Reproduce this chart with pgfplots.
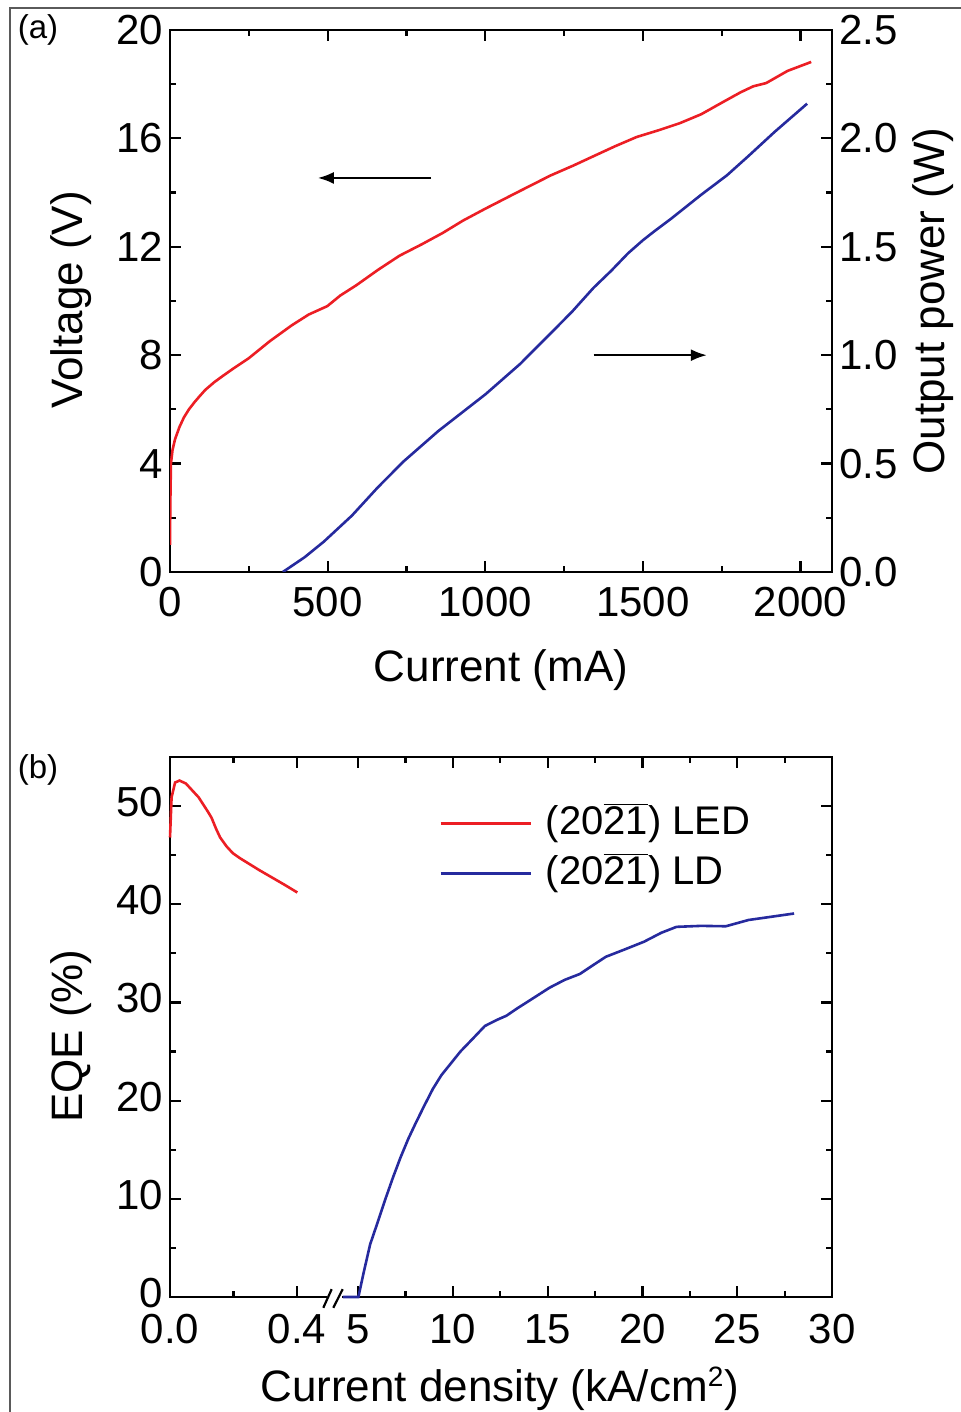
\documentclass[border=0pt]{standalone}
\usepackage{pgfplots}
\pgfplotsset{compat=1.18}
\usepackage{pgfplotstable}
\usepackage{fontspec}
\setmainfont{Liberation Sans}
\usetikzlibrary{arrows.meta}
\definecolor{cred}{RGB}{236,30,36}
\definecolor{cblue}{RGB}{38,42,158}
\definecolor{framegray}{RGB}{90,90,90}

% Panel (a): voltage vs current
\pgfplotstableread{
I V
0 1.0
1 2.5
3 4.0
8 4.5
16 4.9
30 5.35
44 5.7
60 6.0
78 6.27
95 6.5
112 6.72
140 7.0
167 7.23
200 7.5
249 7.88
317 8.52
386 9.1
440 9.5
499 9.81
540 10.2
591 10.58
660 11.15
728 11.67
800 12.1
865 12.51
930 12.97
1001 13.41
1100 14.0
1207 14.63
1280 15.0
1343 15.34
1410 15.7
1480 16.05
1550 16.3
1617 16.56
1685 16.89
1754 17.34
1810 17.7
1850 17.92
1891 18.04
1959 18.49
2034 18.82
}\voltage

% Panel (a): output power vs current
\pgfplotstableread{
I P
358 0
427 0.068
488 0.14
577 0.26
659 0.39
741 0.51
851 0.65
1001 0.82
1111 0.96
1207 1.10
1275 1.20
1343 1.31
1400 1.39
1453 1.47
1500 1.53
1535 1.57
1590 1.63
1685 1.74
1767 1.83
1836 1.92
1918 2.03
2021 2.16
}\power

% Panel (b): LED EQE vs current density (kA/cm2)
\pgfplotstableread{
J E
0 46.8
0.005 50.9
0.016 52.4
0.03 52.6
0.05 52.3
0.07 51.6
0.09 50.9
0.104 50.2
0.12 49.4
0.131 48.8
0.145 47.7
0.158 46.8
0.178 45.9
0.198 45.2
0.22 44.7
0.245 44.2
0.28 43.5
0.312 42.9
0.36 42.0
0.401 41.2
}\led

% Panel (b): LD EQE vs current density (kA/cm2)
\pgfplotstableread{
J E
4.2 0
5.02 0
5.3 2.5
5.64 5.36
6.0 7.4
6.44 9.95
6.85 12.2
7.24 14.2
7.65 16.1
8.04 17.7
8.5 19.5
8.95 21.2
9.4 22.6
9.86 23.7
10.4 25.0
11.0 26.2
11.69 27.6
12.3 28.2
12.83 28.65
13.4 29.4
13.97 30.1
15.1 31.5
15.9 32.3
16.7 32.9
17.4 33.8
18.07 34.65
19.2 35.5
20.1 36.2
21.0 37.1
21.8 37.7
23.1 37.8
24.4 37.76
25.6 38.4
26.7 38.7
28.0 39.06
}\ld

\pgfplotsset{
  mystyle/.style={
    scale only axis,
    axis line style={line width=1.1pt},
    every tick/.style={line width=1.1pt, black},
    major tick length=5.5pt,
    minor tick length=3pt,
    tick align=inside,
    tick label style={font=\fontsize{21}{22}\selectfont},
    xticklabel style={yshift=-4pt},
    label style={font=\fontsize{22}{24}\selectfont},
    /pgf/number format/assume math mode=true,
    /pgf/number format/1000 sep={},
  }
}

\begin{document}
\begin{tikzpicture}
\useasboundingbox (0,0) rectangle (480.5pt,706pt);
% outer frame
\draw[framegray, line width=1pt] (5pt,-5pt) -- (5pt,702pt) -- (485pt,702pt);

% ---------- Panel (a) ----------
\begin{axis}[mystyle, at={(85pt,420pt)}, anchor=south west,
  width=331pt, height=271pt,
  xmin=0, xmax=2100, ymin=0, ymax=20,
  xtick={0,500,1000,1500,2000}, minor xtick={250,750,1250,1750},
  ytick={0,4,8,12,16,20}, minor ytick={2,6,10,14,18},
  ytick pos=left,
  xlabel={Current (mA)}, ylabel={Voltage (V)},
  xlabel style={at={(axis description cs:0.5,-0.181)}, anchor=center},
  ylabel style={at={(axis description cs:-0.15,0.502)}, anchor=center},
]
\addplot[cred, line width=1.3pt] table[x=I, y=V] {\voltage};
\draw[line width=1.1pt, -{Latex[length=8pt,width=6pt]}] (axis cs:828,14.54) -- (axis cs:469,14.54);
\end{axis}
\begin{axis}[mystyle, at={(85pt,420pt)}, anchor=south west,
  width=331pt, height=271pt,
  xmin=0, xmax=2100, ymin=0, ymax=2.5,
  axis x line=none, axis y line*=right,
  ytick={0,0.5,1,1.5,2,2.5}, minor ytick={0.25,0.75,1.25,1.75,2.25},
  yticklabel style={/pgf/number format/.cd, fixed, fixed zerofill, precision=1},
  ylabel={Output power (W)},
  ylabel style={at={(axis description cs:1.153,0.5)}, anchor=center},
]
\addplot[cblue, line width=1.3pt] table[x=I, y=P] {\power};
\draw[line width=1.1pt, -{Latex[length=8pt,width=6pt]}] (axis cs:1344,1.0) -- (axis cs:1703,1.0);
\end{axis}

% ---------- Panel (b) ----------
\begin{axis}[mystyle, at={(85pt,57.5pt)}, anchor=south west,
  width=331pt, height=270pt,
  xmin=0, xmax=662, ymin=0, ymax=55, clip=false,
  xtick={0,127,188,282.8,377.6,472.4,567.2,662},
  xticklabels={0.0,0.4,5,10,15,20,25,30},
  xticklabel style={inner ysep=1pt, yshift=-3.5pt},
  minor xtick={63.5,235.4,330.2,425,519.8,614.6},
  ytick={0,10,20,30,40,50}, minor ytick={5,15,25,35,45},
  yticklabel style={inner ysep=1pt, yshift=2pt},
  xlabel={Current density (kA/cm$^{\mbox{\fontsize{14}{14}\selectfont 2}}$)},
  ylabel={EQE (\%)},
  xlabel style={at={(axis description cs:0.498,-0.17)}, anchor=center},
  ylabel style={at={(axis description cs:-0.15,0.483)}, anchor=center},
  legend style={draw=none, fill=none, at={(axis description cs:0.397,0.931)},
    anchor=north west, font=\fontsize{20}{22}\selectfont, row sep=0pt,
    nodes={text height=16pt, text depth=5pt, inner ysep=2pt, inner xsep=3.5pt},
    /tikz/every odd column/.append style={column sep=3.5pt}},
  legend cell align=left,
  legend image code/.code={\draw[#1] (0pt,0pt) -- (45pt,0pt);},
]
\fill[white] (axis cs:157,-1.3) rectangle (axis cs:171.5,1.3);
\draw[line width=1.1pt] (axis cs:153.3,-1.1) -- (axis cs:161.7,0.8);
\draw[line width=1.1pt] (axis cs:163.3,-1.1) -- (axis cs:172.7,0.8);
\addplot[cred, line width=1.3pt] table[x expr={317.5*\thisrow{J}}, y=E] {\led};
\addlegendentry{(20$\overline{\mbox{21}}$) LED}
\addplot[cblue, line width=1.3pt] table[x expr={188+18.96*(\thisrow{J}-5)}, y=E] {\ld};
\addlegendentry{(20$\overline{\mbox{21}}$) LD}
\end{axis}

% panel labels
\node[font=\fontsize{16.5}{18}\selectfont] at (19pt,691pt) {(a)};
\node[font=\fontsize{16.5}{18}\selectfont] at (19pt,321pt) {(b)};
\end{tikzpicture}
\end{document}
